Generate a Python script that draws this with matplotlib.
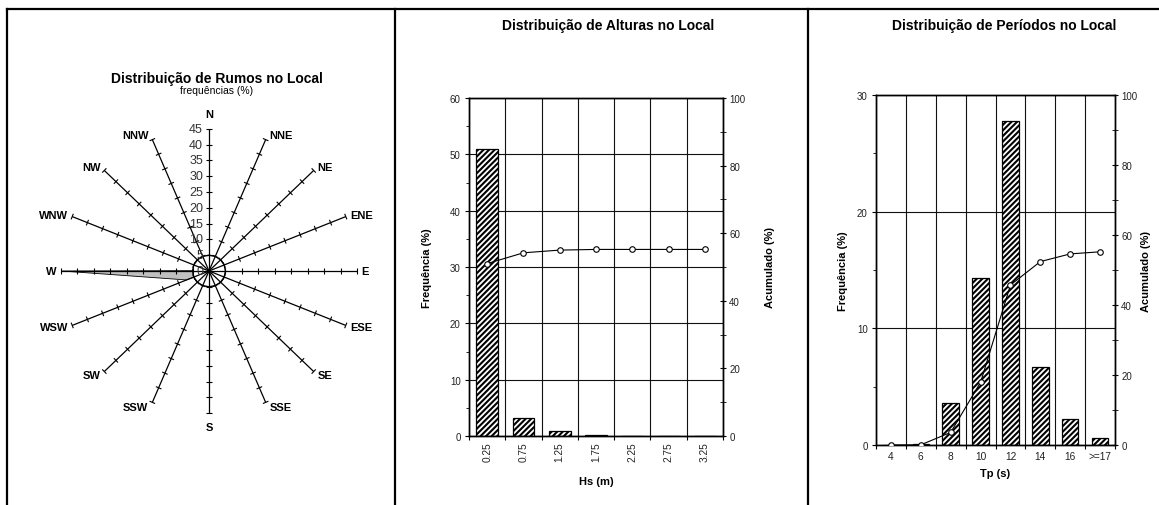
import numpy as np
import matplotlib
matplotlib.use("Agg")
import matplotlib.pyplot as plt
from matplotlib.lines import Line2D
from matplotlib.patches import Polygon
from matplotlib.collections import LineCollection
from matplotlib.ticker import MultipleLocator, FixedLocator, NullFormatter

plt.rcParams['font.family'] = ['Liberation Sans', 'DejaVu Sans']
plt.rcParams['hatch.linewidth'] = 1.5

# ---------------- data ----------------
directions = ['N', 'NNE', 'NE', 'ENE', 'E', 'ESE', 'SE', 'SSE',
              'S', 'SSW', 'SW', 'WSW', 'W', 'WNW', 'NW', 'NNW']
dir_freq = [0.1, 0.1, 0.1, 0.1, 0.1, 0.1, 0.2, 0.2,
            0.3, 0.4, 0.6, 7.4, 44.7, 0.3, 0.1, 0.1]
calm_ring = [5.0] * 16
radial_ticks = [0, 5, 10, 15, 20, 25, 30, 35, 40, 45]

hs_labels = ['0.25', '0.75', '1.25', '1.75', '2.25', '2.75', '3.25']
hs_freq = [51.0, 3.2, 0.83, 0.2, 0.02, 0.0, 0.0]
hs_cum = [51.0, 54.2, 55.0, 55.2, 55.2, 55.2, 55.2]

tp_labels = ['4', '6', '8', '10', '12', '14', '16', '>=17']
tp_freq = [0.0, 0.05, 3.6, 14.3, 27.8, 6.7, 2.2, 0.6]
tp_cum = [0.0, 0.05, 3.6, 17.9, 45.7, 52.4, 54.6, 55.2]

# ---------------- figure ----------------
W, H = 1159, 506
fig = plt.figure(figsize=(W / 100, H / 100), dpi=100)


def fx(x):
    return x / W


def fy(y):
    return 1 - y / H


# panel frame
frame_kw = dict(transform=fig.transFigure, color='black', lw=1.6)
fig.add_artist(Line2D([fx(7), 1], [fy(10), fy(10)], **frame_kw))
for xv in (7, 395, 808):
    fig.add_artist(Line2D([fx(xv), fx(xv)], [fy(10), 0], **frame_kw))

# ---------------- direction rose ----------------
sx, sy = 3.29, 3.16          # pixels per percent unit
cx, cy = 209, 272            # rose centre (pixels)
ax0 = fig.add_axes([0, 0, fx(395), 1])
ax0.set_xlim(-cx / sx, (395 - cx) / sx)
ax0.set_ylim(-(H - cy) / sy, cy / sy)
ax0.axis('off')

theta = np.deg2rad(np.arange(16) * 22.5)
sin_t, cos_t = np.sin(theta), np.cos(theta)
rmax = radial_ticks[-1]

freq_arr = np.asarray(dir_freq)
ax0.add_patch(Polygon(np.column_stack([freq_arr * sin_t, freq_arr * cos_t]),
                      closed=True, facecolor='#c0c0c0', edgecolor='black',
                      lw=0.6, zorder=1))
ring_arr = np.asarray(calm_ring)
ax0.add_patch(Polygon(np.column_stack([ring_arr * sin_t, ring_arr * cos_t]),
                      closed=True, facecolor='white', edgecolor='black',
                      lw=1.0, zorder=2))

spokes = [[(0, 0), (rmax * s, rmax * c)] for s, c in zip(sin_t, cos_t)]
ax0.add_collection(LineCollection(spokes, colors='black', lw=0.9, zorder=3))

ticks = []
half = 3.0
for s, c in zip(sin_t, cos_t):
    dxp, dyp = sx * s, sy * c
    n = np.hypot(dxp, dyp)
    px_, py_ = -dyp / n, dxp / n
    ox, oy = px_ * half / sx, py_ * half / sy
    for r in radial_ticks[1:]:
        ticks.append([(r * s - ox, r * c - oy), (r * s + ox, r * c + oy)])
ax0.add_collection(LineCollection(ticks, colors='black', lw=0.8, zorder=3))

for r in radial_ticks:
    ax0.text(-6 / sx, r, str(r), ha='right', va='center', fontsize=9,
             color='#333333', zorder=4)

for name, s, c in zip(directions, sin_t, cos_t):
    tip = (rmax * s, rmax * c)
    if abs(s) < 1e-6:
        off = (0, 15 if c > 0 else -14)
        ha = 'center'
    elif s > 0:
        off = (4, 5 * c)
        ha = 'left'
    else:
        off = (-4, 5 * c)
        ha = 'right'
    ax0.annotate(name, xy=tip, xytext=off, textcoords='offset pixels',
                 ha=ha, va='center', fontsize=8, fontweight='bold')

fig.text(fx(217), fy(79), 'Distribuição de Rumos no Local', ha='center',
         va='center', fontsize=10, fontweight='bold')
fig.text(fx(217), fy(91), 'frequências (%)', ha='center', va='center',
         fontsize=7.5)


# ---------------- histogram panels ----------------
def dist_panel(box, labels, freq, cum, fmax, title, title_xy, xlabel,
               xlabel_y, ylab_x, rotate, bar_w):
    left, top, right, bottom = box
    ax = fig.add_axes([fx(left), fy(bottom), fx(right - left),
                       (bottom - top) / H])
    n = len(labels)
    x = np.arange(n)
    ax.set_axisbelow(True)
    ax.bar(x, freq, width=bar_w, facecolor='white', edgecolor='black',
           hatch='//////', lw=0.9, zorder=2)
    ax.set_xlim(-0.5, n - 0.5)
    ax.set_ylim(0, fmax)
    ax.yaxis.set_major_locator(MultipleLocator(10))
    ax.yaxis.set_minor_locator(MultipleLocator(5))
    ax.xaxis.set_major_locator(FixedLocator(np.arange(n + 1) - 0.5))
    ax.xaxis.set_major_formatter(NullFormatter())
    ax.xaxis.set_minor_locator(FixedLocator(x))
    ax.set_xticklabels(labels, minor=True, rotation=90 if rotate else 0,
                       fontsize=7.3, color='#222222')
    ax.tick_params(axis='x', which='major', direction='out', length=3,
                   width=0.8)
    ax.tick_params(axis='x', which='minor', length=0, pad=4)
    ax.tick_params(axis='y', which='major', direction='out', length=3,
                   width=0.8, labelsize=7, labelcolor='#222222', pad=3)
    ax.tick_params(axis='y', which='minor', direction='out', length=2,
                   width=0.6)
    ax.grid(True, axis='both', which='major', color='#111111', lw=0.8)
    for sp in ax.spines.values():
        sp.set_linewidth(1.0)
        sp.set_color('black')

    ax2 = ax.twinx()
    ax2.plot(x, cum, color='black', lw=0.8, marker='o', markersize=4,
             markerfacecolor='white', markeredgecolor='black', mew=0.8,
             zorder=5)
    ax2.set_ylim(0, 100)
    ax2.yaxis.set_major_locator(MultipleLocator(20))
    ax2.yaxis.set_minor_locator(MultipleLocator(10))
    ax2.tick_params(axis='y', which='major', direction='inout', length=5,
                    width=0.8, labelsize=7, labelcolor='#222222', pad=2)
    ax2.tick_params(axis='y', which='minor', direction='inout', length=4,
                    width=0.6)
    for sp in ax2.spines.values():
        sp.set_linewidth(1.0)
        sp.set_color('black')

    fig.text(fx(title_xy[0]), fy(title_xy[1]), title, ha='center',
             va='center', fontsize=10, fontweight='bold')
    cxm = (left + right) / 2
    cym = (top + bottom) / 2
    fig.text(fx(cxm), fy(xlabel_y), xlabel, ha='center', va='center',
             fontsize=8, fontweight='bold')
    fig.text(fx(ylab_x[0]), fy(cym), 'Frequência (%)', rotation=90,
             ha='center', va='center', fontsize=8, fontweight='bold')
    fig.text(fx(ylab_x[1]), fy(cym), 'Acumulado (%)', rotation=90,
             ha='center', va='center', fontsize=8, fontweight='bold')
    return ax, ax2


dist_panel((469, 99, 723, 437), hs_labels, hs_freq, hs_cum, 60,
           'Distribuição de Alturas no Local', (608, 26), 'Hs (m)', 482,
           (427, 770), True, 0.6)
dist_panel((876, 96, 1115, 446), tp_labels, tp_freq, tp_cum, 30,
           'Distribuição de Períodos no Local', (1004, 26), 'Tp (s)', 474,
           (843, 1146), False, 0.55)

fig.savefig('out.png', dpi=100)
